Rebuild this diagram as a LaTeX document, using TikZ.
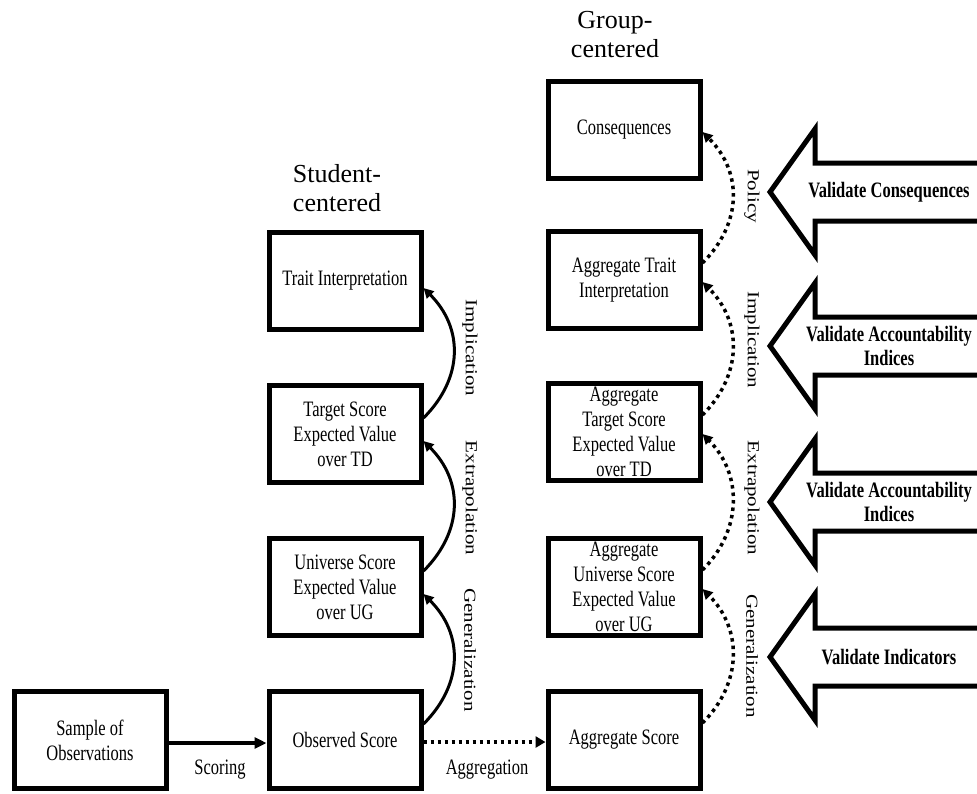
\documentclass[tikz,border=0pt]{standalone}
\usepackage{fontspec}
\usepackage{graphicx}
\setmainfont{Liberation Serif}
\newfontfamily\narrowserif[FakeStretch=0.75]{Liberation Serif}
\usetikzlibrary{arrows.meta}
\begin{document}
\begin{tikzpicture}[x=1pt,y=-1pt,
  stage/.style={draw, line width=5pt, minimum width=152pt, minimum height=97pt,
    inner sep=0pt, align=center, font=\narrowserif\fontsize{22}{25}\selectfont},
  head/.style={align=center, inner sep=0pt, font=\fontsize{26}{29}\selectfont},
  flow/.style={line width=3pt, -{Triangle[length=10pt,width=10pt]}},
  dotflow/.style={line width=3.5pt, dash pattern=on 3.5pt off 4pt,
    -{Triangle[length=10pt,width=10pt]}},
  steplabel/.style={rotate=-90, inner sep=0pt, font=\fontsize{21}{25}\selectfont},
  edgelabel/.style={inner sep=0pt, font=\narrowserif\fontsize{22}{25}\selectfont},
  bigarrow/.style={draw, line width=5pt, line join=miter, miter limit=10},
  arrowtext/.style={align=center, inner sep=0pt,
    font=\narrowserif\bfseries\fontsize{22}{24}\selectfont}
]
\useasboundingbox (0,0) rectangle (977,793);
\begin{scope}
\clip (0,0) rectangle (977,793);

% column headings
\node[head] (shead) at (337,188) {Student-\\centered};
\node[head] (ghead) at (615,35) {Group-\\centered};

% student-centered chain
\node[stage] (sample) at (90,740) {Sample of\\Observations};
\node[stage] (obs)    at (345,740) {Observed Score};
\node[stage] (univ)   at (345,587) {Universe Score\\Expected Value\\over UG};
\node[stage] (target) at (345,434) {Target Score\\Expected Value\\over TD};
\node[stage] (trait)  at (345,281) {Trait Interpretation};

% group-centered chain
\node[stage] (agg)     at (624,740) {Aggregate Score};
\node[stage] (aguniv)  at (624,587) {Aggregate\\Universe Score\\Expected Value\\over UG};
\node[stage] (agtarget) at (624,432) {Aggregate\\Target Score\\Expected Value\\over TD};
\node[stage] (agtrait) at (624,280) {Aggregate Trait\\Interpretation};
\node[stage] (conseq)  at (624,130) {Consequences};

% horizontal links
\draw[line width=4pt, -{Triangle[length=12pt,width=11pt]}]
  ([yshift=-3pt]sample.east) -- ([yshift=-3pt]obs.west);
\node[edgelabel] (scoring) at (220,770) {Scoring};
\draw[line width=4pt, dash pattern=on 3.5pt off 3.5pt, -{Triangle[length=10pt,width=11pt]}]
  ([yshift=-2pt]obs.east) -- ([yshift=-2pt]agg.west);
\node[edgelabel] (aggregation) at (487,770) {Aggregation};

% student inferences
\draw[flow] ([yshift=-35pt]obs.north east) .. controls +(40,-40) and +(40,40) .. ([yshift=-7pt]univ.east);
\draw[flow] ([yshift=-35pt]univ.north east) .. controls +(40,-40) and +(40,40) .. ([yshift=-7pt]target.east);
\draw[flow] ([yshift=-35pt]target.north east) .. controls +(40,-40) and +(40,40) .. ([yshift=-7pt]trait.east);
\node[steplabel] (sgen) at (470,650) {\scalebox{1}[0.8]{Generalization}};
\node[steplabel] (sext) at (470,498) {\scalebox{1}[0.8]{Extrapolation}};
\node[steplabel] (simp) at (470,348) {\scalebox{1}[0.8]{Implication}};

% group inferences
\draw[dotflow] ([yshift=-34pt]agg.north east) .. controls +(40,-40) and +(40,40) .. ([yshift=-2pt]aguniv.east);
\draw[dotflow] ([yshift=-34pt]aguniv.north east) .. controls +(40,-40) and +(40,40) .. ([yshift=-2pt]agtarget.east);
\draw[dotflow] ([yshift=-34pt]agtarget.north east) .. controls +(40,-40) and +(40,40) .. ([yshift=-2pt]agtrait.east);
\draw[dotflow] ([yshift=-34pt]agtrait.north east) .. controls +(40,-40) and +(40,40) .. ([yshift=-2pt]conseq.east);
\node[steplabel] (ggen) at (752,656) {\scalebox{1}[0.8]{Generalization}};
\node[steplabel] (gext) at (752,498) {\scalebox{1}[0.8]{Extrapolation}};
\node[steplabel] (gimp) at (752,340) {\scalebox{1}[0.8]{Implication}};
\node[steplabel] (gpol) at (752,196) {\scalebox{1}[0.8]{Policy}};

% validation block arrows
\foreach \cy/\nm/\txt in {192/vcons/{Validate Consequences},
                          346/vacc/{Validate Accountability\\Indices},
                          502/vaccb/{Validate Accountability\\Indices},
                          657/vind/{Validate Indicators}}{
  \draw[bigarrow] (770,\cy) -- (815,\cy-63) -- (815,\cy-29) -- (1000,\cy-29)
    -- (1000,\cy+29) -- (815,\cy+29) -- (815,\cy+63) -- cycle;
  \node[arrowtext] (\nm) at (889,\cy) {\txt};
}
\end{scope}
\end{tikzpicture}
\end{document}
